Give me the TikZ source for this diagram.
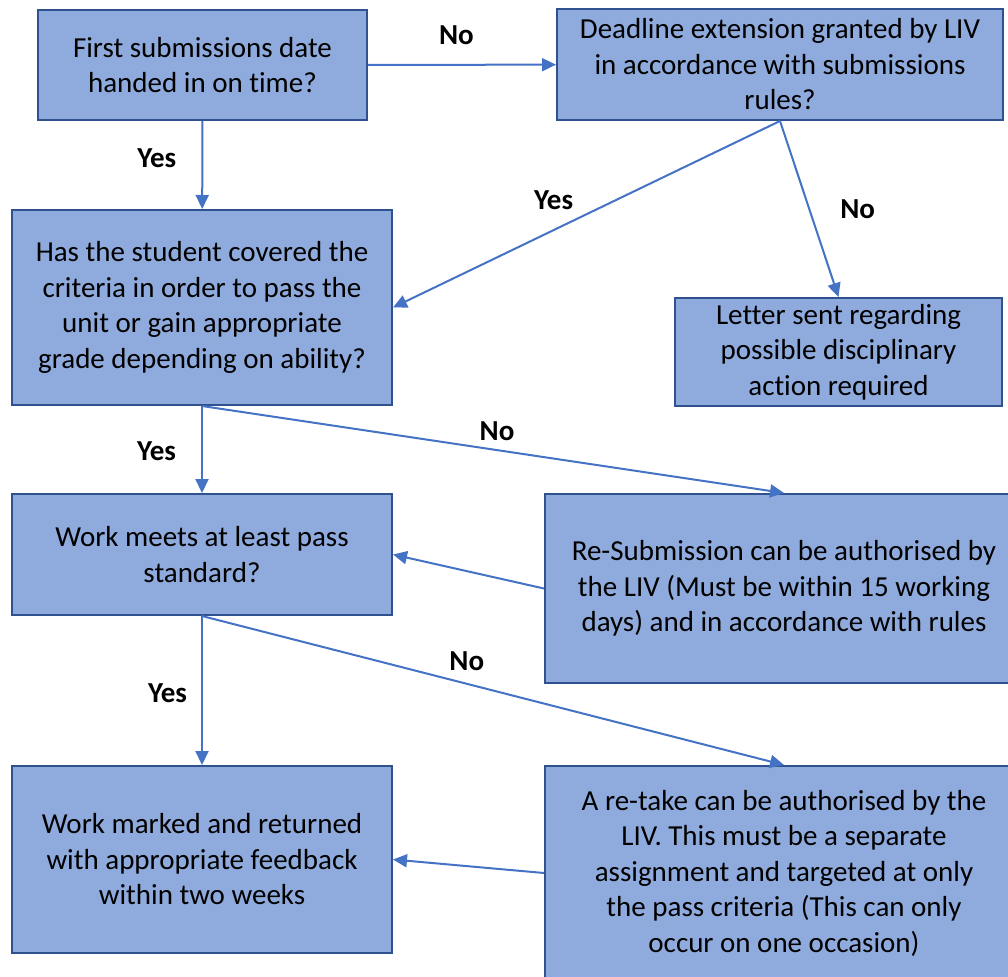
\documentclass[tikz,border=0pt]{standalone}
\usepackage{fontspec}
\setmainfont{Carlito}[Ligatures=NoCommon]
\usepackage{tikz}
\usepackage{xcolor}
\usetikzlibrary{positioning,arrows.meta}

\definecolor{boxfill}{HTML}{8FAADC}
\definecolor{boxline}{HTML}{2F528F}
\definecolor{arrline}{HTML}{4472C4}

\begin{document}
\begin{tikzpicture}[x=1pt, y=-1pt,
        font=\fontsize{29}{35.5}\selectfont,
        box/.style={draw=boxline, fill=boxfill, line width=2pt, rectangle, inner sep=0pt, align=center},
        arr/.style={draw=arrline, line width=2pt, -{Triangle[length=14pt,width=13pt]}},
        lab/.style={font=\fontsize{29}{35.5}\selectfont\bfseries, inner sep=0pt}]
            \useasboundingbox (0,0) rectangle (1008,976);
            \clip (0,0) rectangle (1008,976);

            \node[box, minimum width=329, minimum height=110] (first) at (202.5, 65) {First submissions date\\handed in on time?};
            \node[box, minimum width=446, minimum height=111] (deadline) at (780, 64.5) {Deadline extension granted by LIV\\in accordance with submissions\\rules?};
            \node[box, minimum width=380, minimum height=195] (covered) at (202, 307.5) {Has the student covered the\\criteria in order to pass the\\unit or gain appropriate\\grade depending on ability?};
            \node[box, minimum width=327, minimum height=108] (letter) at (838.5, 352) {Letter sent regarding\\possible disciplinary\\action required};
            \node[box, minimum width=380, minimum height=121] (meets) at (202, 554.5) {Work meets at least pass\\standard?};
            \node[box, minimum width=478, minimum height=189] (resub) at (784, 588.5) {Re-Submission can be authorised by\\the LIV (Must be within 15 working\\days) and in accordance with rules};
            \node[box, minimum width=380, minimum height=187] (marked) at (202, 859.5) {Work marked and returned\\with appropriate feedback\\within two weeks};
            \node[box, minimum width=478, minimum height=214] (retake) at (784, 873) {A re-take can be authorised by the\\LIV. This must be a separate\\assignment and targeted at only\\the pass criteria (This can only\\occur on one occasion)};

            \draw[arr] (first) -- (deadline) node[lab, above=19pt, pos=.47] {No};
            \draw[arr] (first) -- (covered) node[lab, left=25pt, pos=.42] {Yes};
            \draw[arr] (deadline.south) -- (covered.east) node[lab, above=19pt, pos=.585] {Yes};
            \draw[arr] (deadline.south) -- (letter.north) node[lab, right=30pt, pos=.5] {No};
            \draw[arr] (covered.south) -- (resub.north) node[lab, above=8pt, pos=.507] {No};
            \draw[arr] (covered) -- (meets) node[lab, left=25pt, pos=.52] {Yes};
            \draw[arr] (resub.west) -- (meets.east);
            \draw[arr] (meets) -- (marked) node[lab, left=14pt, pos=.52] {Yes};
            \draw[arr] (meets.south) -- (retake.north) node[lab, above=12pt, pos=.455] {No};
            \draw[arr] (retake.west) -- (marked.east);
        \end{tikzpicture}
\end{document}
